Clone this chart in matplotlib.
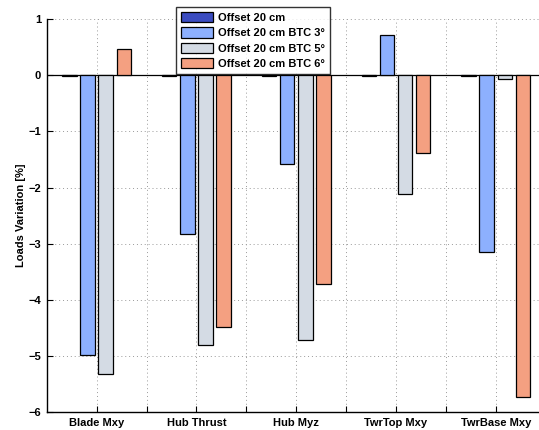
import matplotlib
matplotlib.use("Agg")
import matplotlib.pyplot as plt
import numpy as np

categories = ["Blade Mxy", "Hub Thrust", "Hub Myz", "TwrTop Mxy", "TwrBase Mxy"]
series_names = ["Offset 20 cm", "Offset 20 cm BTC 3°", "Offset 20 cm BTC 5°", "Offset 20 cm BTC 6°"]
offset20 = [-0.01, -0.01, -0.015, -0.01, -0.01]
btc3 = [-4.975, -2.82, -1.58, 0.71, -3.15]
btc5 = [-5.31, -4.80, -4.71, -2.12, -0.06]
btc6 = [0.46, -4.48, -3.71, -1.39, -5.72]
colors = ["#3b4cc0", "#8db0fe", "#d4dbe4", "#f4a081"]
yticks = [1, 0, -1, -2, -3, -4, -5, -6]

plt.rcParams['font.family'] = ['Liberation Sans', 'DejaVu Sans']
plt.rcParams['font.weight'] = 'bold'

W, H = 539, 430
fig = plt.figure(figsize=(W / 100, H / 100), dpi=100)
ax = fig.add_axes([46.7 / W, 17.7 / H, 499.0 / W, 393.3 / H])

x = np.arange(1, len(categories) + 1)
n = 4
spacing = (n / (n + 1.5)) / n
width = 0.8 * spacing
all_series = [offset20, btc3, btc5, btc6]
for i, (vals, c, name) in enumerate(zip(all_series, colors, series_names)):
    ax.bar(x + (i - 1.5) * spacing, vals, width, color=c, edgecolor='black',
           linewidth=0.9, label=name, zorder=3)

ax.set_xlim(0.5, 5.5)
ax.set_ylim(-6, 1)
ax.set_xticks(x)
ax.set_xticklabels(categories, fontsize=8, fontweight='bold')
ax.set_xticks(np.arange(1.5, 5.5, 1), minor=True)
ax.set_yticks(yticks)
ax.set_yticklabels([("\u2212" + str(-v)) if v < 0 else str(v) for v in yticks],
                   fontsize=8, fontweight='bold')
ax.tick_params(axis='both', which='both', direction='in', length=4, width=0.8, pad=4)
ax.axhline(0, color='black', linewidth=0.9, zorder=2)

ax.grid(True, which='both', axis='x', linestyle=(0, (1, 3)), color='#999999', linewidth=0.7, zorder=0)
ax.grid(True, which='major', axis='y', linestyle=(0, (1, 3)), color='#999999', linewidth=0.7, zorder=0)

for s in ['top', 'right']:
    ax.spines[s].set_visible(False)
for s in ['left', 'bottom']:
    ax.spines[s].set_linewidth(1.0)

ax.set_ylabel("Loads Variation [%]", fontsize=8, fontweight='bold', labelpad=2)

leg = fig.legend(loc='upper left', bbox_to_anchor=(176 / W, 1 - 7 / H),
                 fontsize=8, frameon=True, fancybox=False, handlelength=2.9,
                 handleheight=1.05, labelspacing=0.4, borderpad=0.45,
                 handletextpad=0.4, borderaxespad=0)
leg.get_frame().set_edgecolor('black')
leg.get_frame().set_linewidth(1.0)
for t in leg.get_texts():
    t.set_fontweight('bold')

fig.savefig("out.png", dpi=100)
